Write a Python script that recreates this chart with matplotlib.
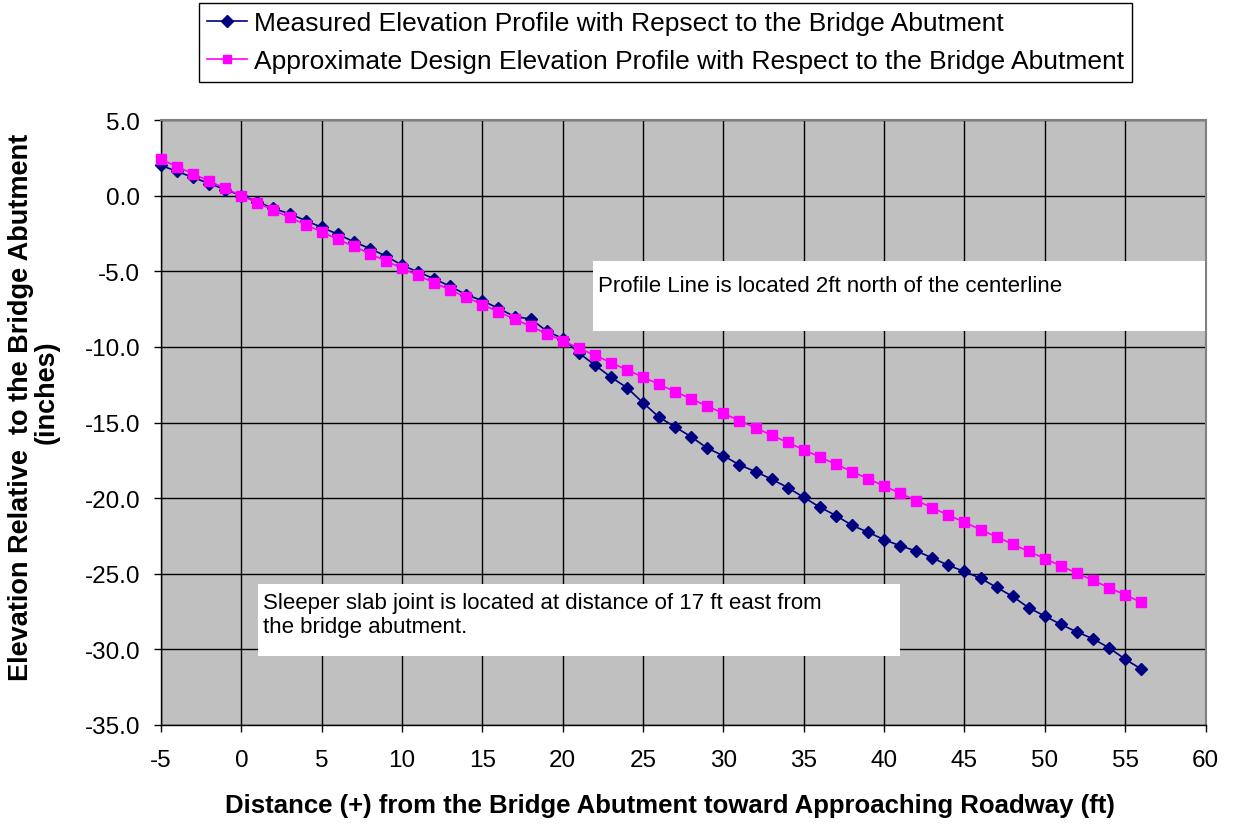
import matplotlib
matplotlib.use("Agg")
import matplotlib.pyplot as plt
from matplotlib.patches import Rectangle

plt.rcParams['font.family'] = ['Liberation Sans', 'DejaVu Sans']

distance_ft = [-5, -4, -3, -2, -1, 0, 1, 2, 3, 4, 5, 6, 7, 8, 9, 10, 11, 12, 13, 14,
               15, 16, 17, 18, 19, 20, 21, 22, 23, 24, 25, 26, 27, 28, 29, 30, 31, 32,
               33, 34, 35, 36, 37, 38, 39, 40, 41, 42, 43, 44, 45, 46, 47, 48, 49, 50,
               51, 52, 53, 54, 55, 56]

measured_in = [2.0, 1.6, 1.2, 0.8, 0.4, 0.0, -0.4, -0.85, -1.2, -1.65, -2.1, -2.55,
               -3.05, -3.5, -4.0, -4.6, -5.05, -5.5, -6.0, -6.55, -6.95, -7.45, -8.0,
               -8.15, -8.95, -9.45, -10.4, -11.2, -12.0, -12.7, -13.7, -14.65, -15.3,
               -15.95, -16.7, -17.2, -17.8, -18.25, -18.75, -19.3, -19.95, -20.6, -21.15,
               -21.8, -22.25, -22.75, -23.15, -23.5, -23.95, -24.45, -24.85, -25.3, -25.9,
               -26.5, -27.25, -27.8, -28.35, -28.85, -29.3, -29.9, -30.65, -31.3]

design_in = [2.4, 1.92, 1.44, 0.96, 0.48, 0.0, -0.48, -0.96, -1.44, -1.92, -2.4, -2.88,
             -3.36, -3.84, -4.32, -4.8, -5.28, -5.76, -6.24, -6.72, -7.2, -7.68, -8.16,
             -8.64, -9.12, -9.6, -10.08, -10.56, -11.04, -11.52, -12.0, -12.48, -12.96,
             -13.44, -13.92, -14.4, -14.88, -15.36, -15.84, -16.32, -16.8, -17.28, -17.76,
             -18.24, -18.72, -19.2, -19.68, -20.16, -20.64, -21.12, -21.6, -22.08, -22.56,
             -23.04, -23.52, -24.0, -24.48, -24.96, -25.44, -25.92, -26.4, -26.88]

x_ticks = list(range(-5, 61, 5))
y_ticks = list(range(-35, 6, 5))

W, H = 1233, 828
fig = plt.figure(figsize=(W / 100, H / 100), dpi=100)
L, R, T, B = 161, 1205.5, 121, 726
ax = fig.add_axes([L / W, 1 - B / H, (R - L) / W, (B - T) / H])
ax.set_facecolor('#C0C0C0')

ax.set_xlim(-5, 60)
ax.set_ylim(-35, 5)
ax.set_xticks(x_ticks)
ax.set_yticks(y_ticks)
ax.set_xticklabels([str(v) for v in x_ticks])
ax.set_yticklabels(['%.1f' % v for v in y_ticks])
ax.tick_params(axis='both', direction='out', length=5, width=1, color='black',
               labelsize=17.5)
ax.tick_params(axis='x', pad=12)
ax.tick_params(axis='y', pad=10)
ax.grid(True, color='black', linewidth=1.0)
ax.set_axisbelow(True)
for s in ['top', 'right']:
    ax.spines[s].set_color('#808080')
    ax.spines[s].set_linewidth(1.5)
for s in ['left', 'bottom']:
    ax.spines[s].set_color('black')
    ax.spines[s].set_linewidth(1.0)

l1, = ax.plot(distance_ft, measured_in, color='#000080', marker='D', markersize=6.5,
              linewidth=1.2, label='Measured Elevation Profile with Repsect to the Bridge Abutment',
              zorder=3, clip_on=False)
l2, = ax.plot(distance_ft, design_in, color='#FF00FF', marker='s', markersize=7.5,
              linewidth=1.2, label='Approximate Design Elevation Profile with Respect to the Bridge Abutment',
              zorder=4, clip_on=False)


def px_box(x0, y0, x1, y1):
    r = Rectangle((x0 / W, 1 - y1 / H), (x1 - x0) / W, (y1 - y0) / H,
                  transform=fig.transFigure, facecolor='white', edgecolor='none', zorder=5)
    fig.add_artist(r)


px_box(593, 262, 1205, 332)
fig.text(598 / W, 1 - 287 / H, 'Profile Line is located 2ft north of the centerline',
         fontsize=16, va='center', ha='left', zorder=6)
px_box(258, 585, 900, 657)
fig.text(263 / W, 1 - 604 / H, 'Sleeper slab joint is located at distance of 17 ft east from',
         fontsize=16, va='center', ha='left', zorder=6)
fig.text(263 / W, 1 - 628 / H, 'the bridge abutment.',
         fontsize=16, va='center', ha='left', zorder=6)

fig.text(670 / W, 1 - 806 / H,
         'Distance (+) from the Bridge Abutment toward Approaching Roadway (ft)',
         fontsize=18.5, fontweight='bold', ha='center', va='center')
fig.text(21 / W, 1 - 407 / H, 'Elevation Relative  to the Bridge Abutment',
         fontsize=19.5, fontweight='bold', ha='center', va='center', rotation=90)
fig.text(47 / W, 1 - 392 / H, '(inches)',
         fontsize=19.5, fontweight='bold', ha='center', va='center', rotation=90)

leg = fig.legend(handles=[l1, l2], loc='upper left', bbox_to_anchor=(199 / W, 1 - 4 / H),
                 fontsize=19, frameon=True, fancybox=False, framealpha=1,
                 edgecolor='black', borderpad=0.32, labelspacing=0.53,
                 handlelength=1.5, handletextpad=0.25, borderaxespad=0)
leg.get_frame().set_linewidth(1.0)
for h in leg.legend_handles:
    h.set_markersize(6)

fig.savefig('out.png', dpi=100)
